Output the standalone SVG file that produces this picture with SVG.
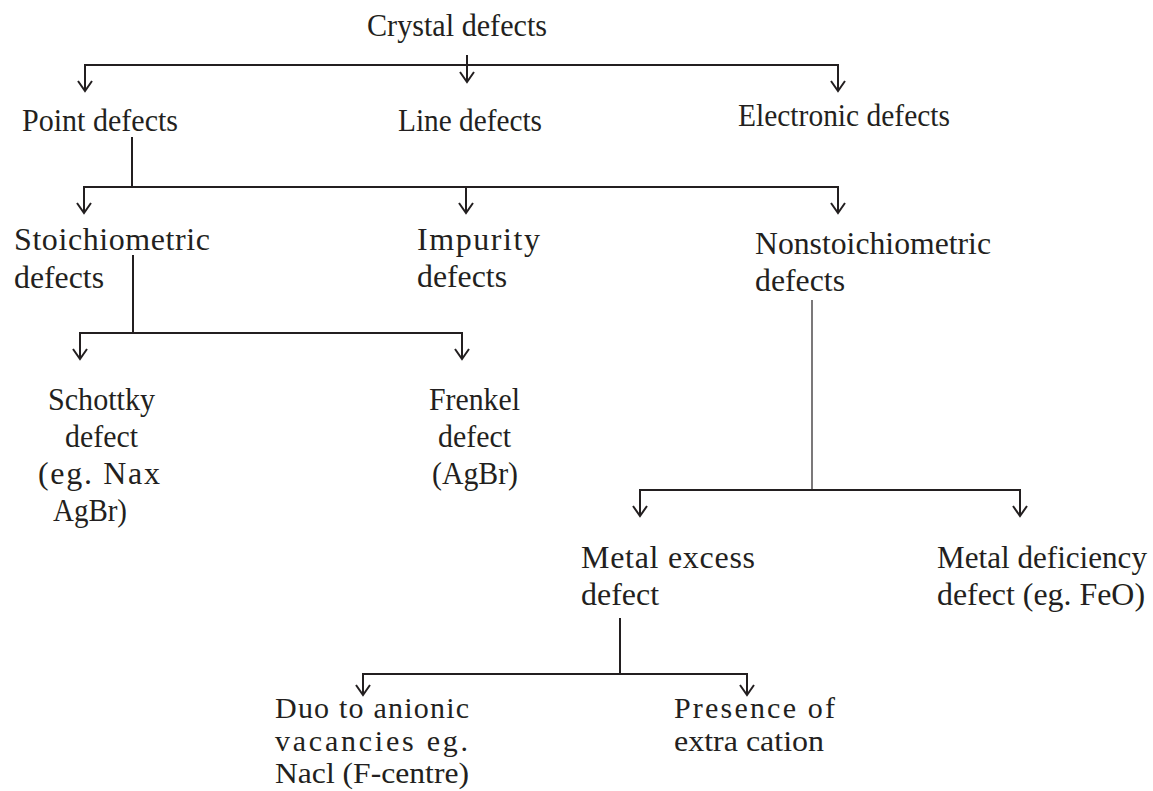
<svg xmlns="http://www.w3.org/2000/svg" width="1153" height="791" viewBox="0 0 1153 791">
<style>
text{font-family:"Liberation Serif","Times New Roman",serif;font-size:32px;fill:#231f20}
text.s{font-size:30px}
.c line{stroke:#231f20;stroke-width:2;fill:none}
.c line.thin{stroke-width:1.2}
.c line.arr{marker-end:url(#chev)}
</style>
<defs>
<marker id="chev" markerUnits="userSpaceOnUse" viewBox="-12 -9 14 18" refX="0" refY="0" markerWidth="14" markerHeight="18" orient="auto">
<path d="M-10,-7 L0,0 L-10,7" fill="none" stroke="#231f20" stroke-width="2"/>
</marker>
</defs>
<rect width="1153" height="791" fill="#fff"/>
<g class="c" id="connectors">
<line x1="84" y1="65" x2="839" y2="65"/>
<line class="arr" x1="85" y1="65" x2="85" y2="91"/>
<line class="arr" x1="467" y1="55" x2="467" y2="82"/>
<line class="arr" x1="838" y1="65" x2="838" y2="91"/>
<line x1="132" y1="137" x2="132" y2="187"/>
<line x1="83" y1="187" x2="839" y2="187"/>
<line class="arr" x1="84" y1="187" x2="84" y2="213"/>
<line class="arr" x1="466" y1="187" x2="466" y2="213"/>
<line class="arr" x1="838" y1="187" x2="838" y2="213"/>
<line x1="133" y1="255" x2="133" y2="333"/>
<line x1="79" y1="333" x2="463" y2="333"/>
<line class="arr" x1="80" y1="333" x2="80" y2="359"/>
<line class="arr" x1="462" y1="333" x2="462" y2="359"/>
<line class="thin" x1="812" y1="300" x2="812" y2="490"/>
<line x1="639" y1="490" x2="1021" y2="490"/>
<line class="arr" x1="640" y1="490" x2="640" y2="516"/>
<line class="arr" x1="1020" y1="490" x2="1020" y2="516"/>
<line x1="620" y1="618" x2="620" y2="674"/>
<line x1="362" y1="674" x2="748" y2="674"/>
<line class="arr" x1="363" y1="674" x2="363" y2="695"/>
<line class="arr" x1="747" y1="674" x2="747" y2="695"/>
</g>
<g id="crystal"><text x="367" y="36" textLength="180" lengthAdjust="spacingAndGlyphs">Crystal defects</text></g>
<g id="point"><text x="22" y="131" textLength="156" lengthAdjust="spacingAndGlyphs">Point defects</text></g>
<g id="line"><text x="398" y="131" textLength="144" lengthAdjust="spacingAndGlyphs">Line defects</text></g>
<g id="electronic"><text x="738" y="126" textLength="212" lengthAdjust="spacingAndGlyphs">Electronic defects</text></g>
<g id="stoich"><text x="14" y="250" textLength="196" lengthAdjust="spacing">Stoichiometric</text><text x="14" y="288" textLength="90" lengthAdjust="spacingAndGlyphs">defects</text></g>
<g id="impurity"><text x="417" y="250" textLength="123" lengthAdjust="spacing">Impurity</text><text x="417" y="287" textLength="90" lengthAdjust="spacingAndGlyphs">defects</text></g>
<g id="nonstoich"><text x="755" y="254" textLength="236" lengthAdjust="spacingAndGlyphs">Nonstoichiometric</text><text x="755" y="291" textLength="90" lengthAdjust="spacingAndGlyphs">defects</text></g>
<g id="schottky"><text x="48" y="410" textLength="107" lengthAdjust="spacingAndGlyphs">Schottky</text><text x="65" y="447" textLength="73" lengthAdjust="spacingAndGlyphs">defect</text><text x="38" y="484" textLength="122" lengthAdjust="spacing">(eg. Nax</text><text x="53" y="521" textLength="74" lengthAdjust="spacingAndGlyphs">AgBr)</text></g>
<g id="frenkel"><text x="429" y="410" textLength="91" lengthAdjust="spacingAndGlyphs">Frenkel</text><text x="438" y="447" textLength="73" lengthAdjust="spacingAndGlyphs">defect</text><text x="432" y="484" textLength="86" lengthAdjust="spacingAndGlyphs">(AgBr)</text></g>
<g id="metalexcess"><text x="581" y="568" textLength="174" lengthAdjust="spacing">Metal excess</text><text x="581" y="605" textLength="78" lengthAdjust="spacingAndGlyphs">defect</text></g>
<g id="metaldef"><text x="937" y="568" textLength="210" lengthAdjust="spacingAndGlyphs">Metal deficiency</text><text x="937" y="605" textLength="208" lengthAdjust="spacingAndGlyphs">defect (eg. FeO)</text></g>
<g id="duo"><text class="s" x="275" y="718" textLength="194" lengthAdjust="spacing">Duo to anionic</text><text class="s" x="275" y="751" textLength="193" lengthAdjust="spacing">vacancies eg.</text><text class="s" x="275" y="783" textLength="194" lengthAdjust="spacingAndGlyphs">Nacl (F-centre)</text></g>
<g id="presence"><text class="s" x="674" y="718" textLength="161" lengthAdjust="spacing">Presence of</text><text class="s" x="674" y="751" textLength="150" lengthAdjust="spacingAndGlyphs">extra cation</text></g>
</svg>
